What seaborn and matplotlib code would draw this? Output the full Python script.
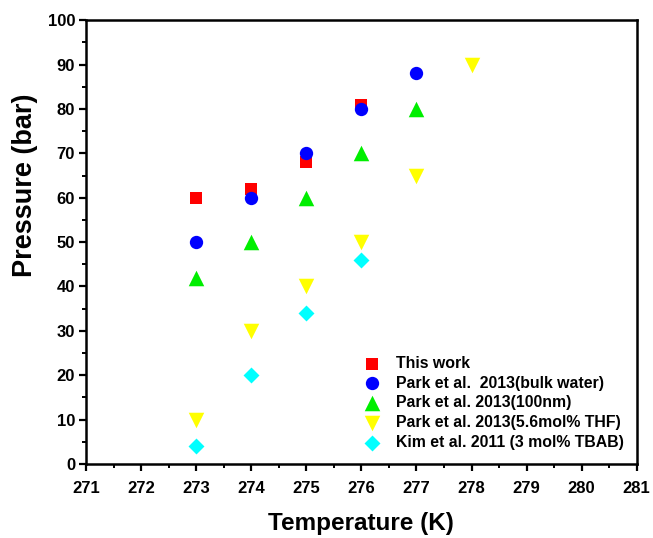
import matplotlib
matplotlib.use("Agg")
import matplotlib.pyplot as plt
import seaborn as sns
import pandas as pd
from matplotlib.ticker import MultipleLocator

sns.set_style("ticks")
plt.rcParams['font.family'] = ['Liberation Sans', 'DejaVu Sans']
plt.rcParams['font.weight'] = 'bold'
for k in ['text.color', 'axes.labelcolor', 'xtick.color', 'ytick.color',
          'axes.edgecolor']:
    plt.rcParams[k] = 'black'

series = ["This work", "Park et al.  2013(bulk water)", "Park et al. 2013(100nm)",
          "Park et al. 2013(5.6mol% THF)", "Kim et al. 2011 (3 mol% TBAB)"]
t_this = [273, 274, 275, 276]
p_this = [60, 62, 68, 81]
t_bulk = [273, 274, 275, 276, 277]
p_bulk = [50, 60, 70, 80, 88]
t_100 = [273, 274, 275, 276, 277]
p_100 = [42, 50, 60, 70, 80]
t_thf = [273, 274, 275, 276, 277, 278]
p_thf = [10, 30, 40, 50, 65, 90]
t_kim = [273, 274, 275, 276]
p_kim = [4, 20, 34, 46]

colors = ["#ff0000", "#0000ff", "#00ee00", "#ffff00", "#00ffff"]
markers = ["s", "o", "^", "v", "D"]
sizes = [76, 92, 125, 125, 66]

rows = []
for name, ts, ps in zip(series, [t_this, t_bulk, t_100, t_thf, t_kim],
                        [p_this, p_bulk, p_100, p_thf, p_kim]):
    for t, p in zip(ts, ps):
        rows.append({"T": t, "P": p, "Series": name})
df = pd.DataFrame(rows)

fig = plt.figure(figsize=(6.53, 5.38), dpi=100)
ax = fig.add_axes([0.132, 0.1375, 0.843, 0.825])

for name, c, m, s in zip(series, colors, markers, sizes):
    sub = df[df["Series"] == name]
    sns.scatterplot(data=sub, x="T", y="P", color=c, marker=m, s=s,
                    linewidth=0, ax=ax, label=name, zorder=3)

ax.set_xlim(271, 281)
ax.set_ylim(0, 100)
ax.xaxis.set_major_locator(MultipleLocator(1))
ax.xaxis.set_minor_locator(MultipleLocator(0.5))
ax.yaxis.set_major_locator(MultipleLocator(10))
ax.yaxis.set_minor_locator(MultipleLocator(5))
ax.tick_params(axis='x', which='major', direction='out', length=5, width=1.6,
               labelsize=12, pad=7, colors='black')
ax.tick_params(axis='y', which='major', direction='out', length=5, width=1.6,
               labelsize=12, pad=3, colors='black')
ax.tick_params(which='minor', direction='out', length=3, width=1.4, colors='black')
for lab in ax.get_xticklabels() + ax.get_yticklabels():
    lab.set_fontweight('bold')
for sp in ax.spines.values():
    sp.set_visible(True)
    sp.set_linewidth(1.8)
    sp.set_color('black')

ax.set_xlabel("Temperature (K)", fontsize=17.5, fontweight='bold', color='black')
ax.set_ylabel("Pressure (bar)", fontsize=19.5, fontweight='bold', color='black')
ax.xaxis.set_label_coords(0.5, -0.108)
ax.yaxis.set_label_coords(-0.087, 0.628)

leg = ax.legend(loc='lower right', bbox_to_anchor=(1.003, 0.0), frameon=False,
                prop={'weight': 'bold', 'size': 11.4}, handletextpad=0.7,
                labelspacing=0.3, markerscale=1.0, borderaxespad=0.5,
                handlelength=1.6)
for t in leg.get_texts():
    t.set_color('black')

fig.savefig("out.png", dpi=100)
